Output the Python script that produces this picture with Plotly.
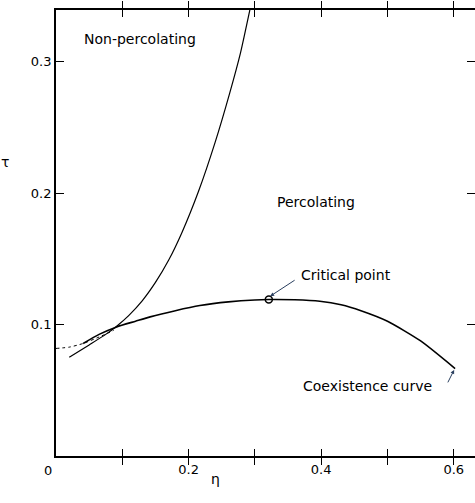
import plotly.graph_objects as go

# --- data ---
perc_eta = [0.020, 0.050, 0.075, 0.0915, 0.110, 0.130, 0.150, 0.170, 0.190, 0.215, 0.240, 0.262, 0.278, 0.2925]
perc_tau = [0.0751, 0.0845, 0.0925, 0.0987, 0.1070, 0.1180, 0.1320, 0.1490, 0.1700, 0.2013, 0.2385, 0.2760, 0.3060, 0.3395]

coex_eta = [0.041, 0.065, 0.0915, 0.120, 0.142, 0.180, 0.217, 0.260, 0.300, 0.321, 0.360, 0.398, 0.430, 0.460, 0.500, 0.550, 0.602]
coex_tau = [0.0856, 0.0925, 0.0982, 0.1025, 0.1058, 0.1105, 0.1144, 0.1172, 0.1187, 0.1190, 0.1188, 0.1177, 0.1150, 0.1105, 0.1025, 0.0875, 0.0665]

dot_eta = [0.0, 0.020, 0.041, 0.065, 0.087]
dot_tau = [0.0818, 0.0828, 0.0856, 0.0905, 0.0955]

crit_eta = [0.321]
crit_tau = [0.119]

x_ticks = [0.0, 0.1, 0.2, 0.3, 0.4, 0.5, 0.6]
x_ticktext = ["", "", "0.2", "", "0.4", "", "0.6"]
y_ticks = [0.1, 0.2, 0.3]
y_ticktext = ["0.1", "0.2", "0.3"]

FONT = "DejaVu Sans"
fig = go.Figure()

fig.add_trace(go.Scatter(x=dot_eta, y=dot_tau, mode="lines",
                         line=dict(color="black", width=1, dash="dot", shape="spline", smoothing=0.6), showlegend=False))
fig.add_trace(go.Scatter(x=perc_eta, y=perc_tau, mode="lines",
                         line=dict(color="black", width=1.2, shape="spline", smoothing=0.6), showlegend=False))
fig.add_trace(go.Scatter(x=coex_eta, y=coex_tau, mode="lines",
                         line=dict(color="black", width=1.6, shape="spline", smoothing=0.6), showlegend=False))
fig.add_trace(go.Scatter(x=crit_eta, y=crit_tau, mode="markers",
                         marker=dict(symbol="circle-open", size=7, color="black", line=dict(width=1.5)), showlegend=False))
# invisible trace for right axis ticks
fig.add_trace(go.Scatter(x=[0], y=[0], yaxis="y2", mode="markers", marker=dict(opacity=0),
                         showlegend=False, hoverinfo="skip"))

fig.update_layout(
    width=475, height=503,
    margin=dict(l=56, r=0, t=10, b=47),
    paper_bgcolor="white", plot_bgcolor="white",
    font=dict(family=FONT, size=12, color="black"),
    xaxis=dict(range=[0, 0.632], tickvals=x_ticks, ticktext=x_ticktext, ticks="inside", ticklen=7,
               tickwidth=1.2, tickcolor="black", showline=True, linecolor="black", linewidth=1.8,
               mirror="allticks", showgrid=False, zeroline=False, tickfont=dict(size=13, family=FONT)),
    yaxis=dict(range=[0, 0.3392], tickvals=y_ticks, ticktext=y_ticktext, ticks="inside", ticklen=8,
               tickwidth=1.2, tickcolor="black", showline=True, linecolor="black", linewidth=1.8,
               showgrid=False, zeroline=False, tickfont=dict(size=13, family=FONT)),
    yaxis2=dict(range=[0, 0.3392], overlaying="y", side="right", tickvals=y_ticks, showticklabels=False,
                ticks="inside", ticklen=8, tickwidth=1.2, tickcolor="black", showline=False,
                showgrid=False, zeroline=False),
)

ann = [
    dict(x=0, y=0, xref="x", yref="y", text="0", showarrow=False, xshift=-8, yshift=-14, font=dict(size=13)),
    dict(x=0.38, y=-0.075, xref="paper", yref="paper", text="η", showarrow=False, font=dict(size=14)),
    dict(x=-0.135, y=0.66, xref="paper", yref="paper", text="τ", showarrow=False, font=dict(size=14)),
    dict(x=0.039, y=0.3175, xref="x", yref="y", text="Non-percolating", showarrow=False, xanchor="left", font=dict(size=14)),
    dict(x=0.330, y=0.193, xref="x", yref="y", text="Percolating", showarrow=False, xanchor="left", font=dict(size=14)),
    dict(x=0.367, y=0.1375, xref="x", yref="y", text="Critical point", showarrow=False, xanchor="left", font=dict(size=14)),
    dict(x=0.323, y=0.1215, xref="x", yref="y", text="", showarrow=True, arrowhead=2,
         arrowsize=0.8, arrowwidth=1, ax=26, ay=-17),
    dict(x=0.470, y=0.0530, xref="x", yref="y", text="Coexistence curve", showarrow=False, font=dict(size=14)),
    dict(x=0.6005, y=0.0655, xref="x", yref="y", text="", showarrow=True, arrowhead=2,
         arrowsize=0.8, arrowwidth=1, ax=-7, ay=14),
]
fig.update_layout(annotations=ann)

fig.write_html("out.html")
